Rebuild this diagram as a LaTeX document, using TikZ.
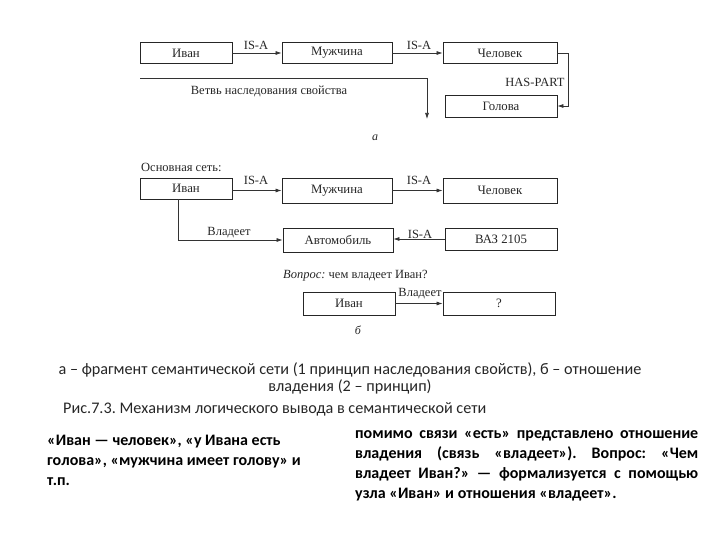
\documentclass[tikz,border=0pt]{standalone}
\usepackage{fontspec}
\setmainfont{Liberation Serif}
\newfontfamily\capfont{Carlito}
\usetikzlibrary{arrows.meta}
\frenchspacing
\begin{document}
\begin{tikzpicture}[x=1pt,y=-1pt,
  box/.style={draw=black!85,line width=0.8pt,inner sep=0pt,font=\fontsize{12.8}{14}\selectfont,text=black!85},
  conn/.style={draw=black!80,line width=0.7pt,-{Latex[length=6pt,width=4pt]}},
  lab/.style={font=\fontsize{12.5}{14}\selectfont,text=black!85,inner sep=0pt},
  captxt/.style={font=\capfont\fontsize{16.2}{19}\selectfont,text=black!85,inner sep=0pt},
  paratxt/.style={font=\capfont\bfseries\fontsize{16}{19}\selectfont,text=black,inner sep=0pt}]
\useasboundingbox (0,0) rectangle (720,540);
% ---- part a
\node[box,minimum width=92pt,minimum height=21pt] (ivan1) at (186,53) {Иван};
\node[box,minimum width=110pt,minimum height=21pt] (muz1) at (337,53) {Мужчина};
\node[box,minimum width=114pt,minimum height=21pt] (chel1) at (500,53) {Человек};
\node[box,minimum width=112pt,minimum height=22pt] (gol1) at (501,106) {Голова};
\draw[conn] (ivan1) -- (muz1);
\draw[conn] (muz1) -- (chel1);
\draw[conn] (chel1.east) -- ++(11,0) |- (gol1.east);
\node[lab] (isa1) at (256,45) {IS-A};
\node[lab] (isa2) at (419,45) {IS-A};
\node[lab] (haspart) at (535,82) {HAS-PART};
\coordinate (b1) at (140,78);
\coordinate (b2) at (427,119);
\draw[conn] (b1) -| (b2);
\node[lab] (branch) at (269,91) {Ветвь наследования свойства};
\node[lab,font=\itshape\fontsize{12}{14}\selectfont] (la) at (375,138) {а};
% ---- part b
\node[lab,anchor=west] (osn) at (141,167) {Основная сеть:};
\node[box,minimum width=92pt,minimum height=21pt] (ivan2) at (186,188.5) {Иван};
\node[box,minimum width=110pt,minimum height=25pt] (muz2) at (337,190.5) {Мужчина};
\node[box,minimum width=114pt,minimum height=25pt] (chel2) at (500,190.5) {Человек};
\draw[conn] (ivan2.east |- muz2.west) -- (muz2.west);
\draw[conn] (muz2) -- (chel2);
\node[lab] (isa3) at (256,180) {IS-A};
\node[lab] (isa4) at (419,180) {IS-A};
\node[box,minimum width=110pt,minimum height=24pt] (avto) at (338,240) {Автомобиль};
\node[box,minimum width=112pt,minimum height=22pt] (vaz) at (501,239) {ВАЗ 2105};
\draw[conn] ([xshift=-8pt]ivan2.south) |- (avto.west);
\node[lab] (vlad1) at (229,233) {Владеет};
\draw[conn] (vaz.west) -- (avto.east |- vaz.west);
\node[lab] (isa5) at (420,234) {IS-A};
% ---- question
\node[lab,anchor=west] (vopr) at (283,276) {\textit{Вопрос:} чем владеет Иван?};
\node[box,minimum width=92pt,minimum height=23pt] (ivan3) at (349,303.5) {Иван};
\node[box,minimum width=112pt,minimum height=23pt] (q) at (499,303.5) {?};
\draw[conn] (ivan3) -- (q);
\node[lab] (vlad2) at (420,294) {Владеет};
\node[lab,font=\itshape\fontsize{12}{14}\selectfont] (lb) at (358,330) {б};
% ---- caption
\node[captxt,anchor=base] (c1) at (350,374) {а – фрагмент семантической сети (1 принцип наследования свойств), б – отношение};
\node[captxt,anchor=base] (c2) at (350,391) {владения (2 – принцип)};
\node[captxt,anchor=base west] (c3) at (63,413) {Рис.7.3. Механизм логического вывода в семантической сети};
% ---- left paragraph
\node[paratxt,anchor=base west] (l1) at (47,445) {«Иван — человек», «у Ивана есть};
\node[paratxt,anchor=base west] (l2) at (47,465) {голова», «мужчина имеет голову» и};
\node[paratxt,anchor=base west] (l3) at (47,485) {т.п.};
% ---- right paragraph
\node[paratxt,anchor=base west] (r1) at (355,438) {\makebox[343pt][s]{помимо связи «есть» представлено отношение}};
\node[paratxt,anchor=base west] (r2) at (355,458) {\makebox[343pt][s]{владения (связь «владеет»). Вопрос: «Чем}};
\node[paratxt,anchor=base west] (r3) at (355,478) {\makebox[343pt][s]{владеет Иван?» — формализуется с помощью}};
\node[paratxt,anchor=base west] (r4) at (355,498) {узла «Иван» и отношения «владеет».};
\end{tikzpicture}
\end{document}
